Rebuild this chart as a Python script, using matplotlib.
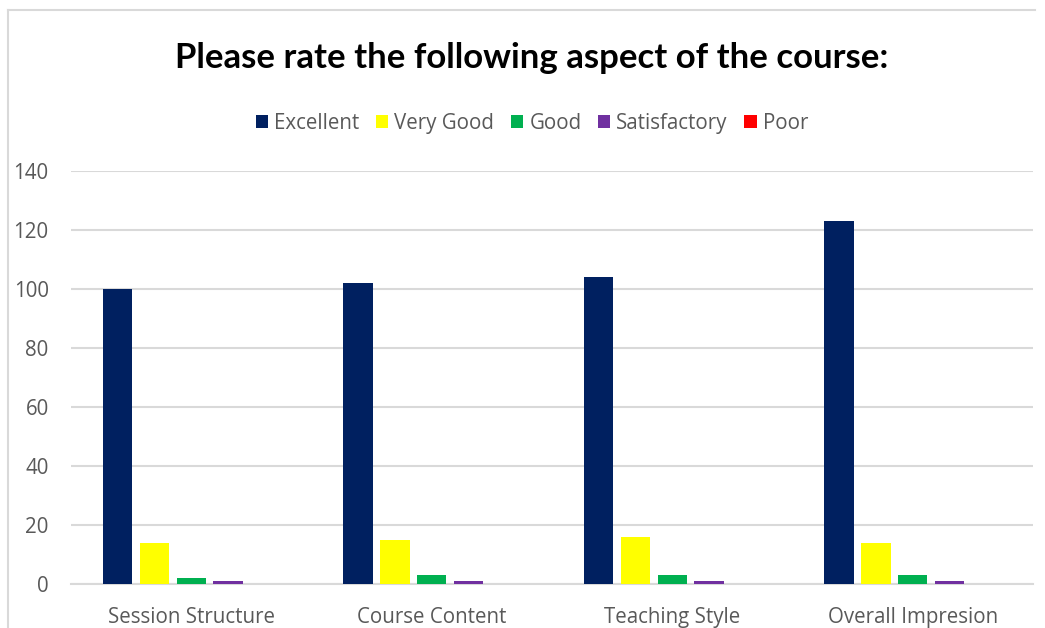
import matplotlib
matplotlib.use("Agg")
import matplotlib.pyplot as plt
import numpy as np

# values
aspects = ["Session Structure", "Course Content", "Teaching Style", "Overall Impresion"]
excellent = [100, 102, 104, 123]
very_good = [14, 15, 16, 14]
good = [2, 3, 3, 3]
satisfactory = [1, 1, 1, 1]
poor = [0, 0, 0, 0]

series_names = ["Excellent", "Very Good", "Good", "Satisfactory", "Poor"]
series_values = [excellent, very_good, good, satisfactory, poor]
colours = ["#002060", "#FFFF00", "#00B050", "#7030A0", "#FF0000"]

grey = "#595959"
fs = 14.8

fig = plt.figure(figsize=(10.45, 6.28), dpi=100)
ax = fig.add_axes([0.0679, 0.0701, 0.9206, 0.6576])

x = np.arange(len(aspects))
step = 0.153
width = 0.122
for i, (name, vals, col) in enumerate(zip(series_names, series_values, colours)):
    ax.bar(x + (i - 2) * step, vals, width, color=col, label=name, zorder=3)

ax.set_xlim(-0.5, len(aspects) - 0.5)
ax.set_ylim(0, 140)
ax.set_yticks(range(0, 141, 20))
ax.set_xticks(x)
ax.set_xticklabels(aspects, fontsize=fs, color=grey, family="Open Sans")
for lab in ax.get_yticklabels():
    lab.set_fontsize(fs)
    lab.set_color(grey)
    lab.set_family("Open Sans")
ax.tick_params(axis="both", length=0)
ax.tick_params(axis="y", pad=16)
ax.tick_params(axis="x", pad=16.5)
ax.grid(axis="y", color="#d9d9d9", linewidth=1.5, zorder=0)
for s in ["top", "right", "left"]:
    ax.spines[s].set_visible(False)
ax.spines["bottom"].set_color("#d9d9d9")
ax.spines["bottom"].set_linewidth(1.5)

fig.text(0.509, 0.907, "Please rate the following aspect of the course:",
         ha="center", va="center", fontsize=25, fontweight="bold", family="Lato")

fig.legend(loc="center", bbox_to_anchor=(0.509, 0.803), ncol=5, frameon=False,
           prop={"family": "Open Sans", "size": fs}, labelcolor=grey,
           handlelength=0.6, handleheight=0.6, handletextpad=0.3, columnspacing=0.8)

# outer chart border (left and top edges visible)
fig.add_artist(plt.Line2D([0.0077, 0.0077], [0, 0.984], color="#d9d9d9", linewidth=1.5))
fig.add_artist(plt.Line2D([0.0077, 0.99], [0.984, 0.984], color="#d9d9d9", linewidth=1.5))

fig.savefig("out.png", dpi=100)
